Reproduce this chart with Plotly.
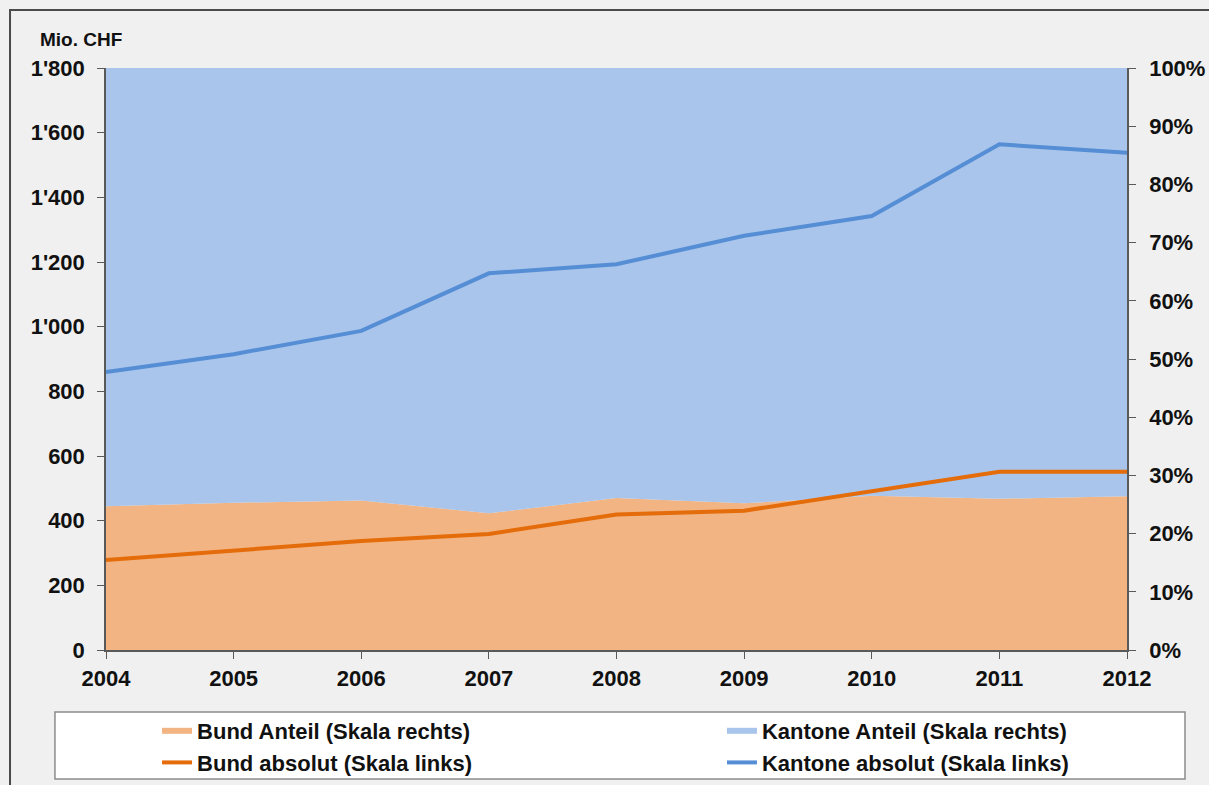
import plotly.graph_objects as go

# Years on the x axis
years = [2004, 2005, 2006, 2007, 2008, 2009, 2010, 2011, 2012]

# Shares in percent (right-hand scale)
bund_anteil = [24.7, 25.3, 25.7, 23.5, 26.1, 25.2, 26.5, 26.0, 26.4]
kantone_anteil = [75.3, 74.7, 74.3, 76.5, 73.9, 74.8, 73.5, 74.0, 73.6]

# Absolute amounts in Mio. CHF (left-hand scale)
bund_absolut = [278, 309, 337, 359, 419, 431, 490, 551, 551]
kantone_absolut = [860, 915, 987, 1165, 1193, 1281, 1342, 1564, 1538]

# Axis tick labels
chf_ticks = [0, 200, 400, 600, 800, 1000, 1200, 1400, 1600, 1800]
chf_labels = ["0", "200", "400", "600", "800", "1'000", "1'200", "1'400", "1'600", "1'800"]
pct_ticks = [0, 10, 20, 30, 40, 50, 60, 70, 80, 90, 100]
pct_labels = [f"{v}%" for v in pct_ticks]

ORANGE_FILL = "#F2B482"
BLUE_FILL = "#A9C5EB"
ORANGE_LINE = "#E46C0A"
BLUE_LINE = "#558ED5"
AXIS = "#595959"
FONT = "Liberation Sans"

fig = go.Figure()

# Stacked shares (right scale) – Bund entries go to the first legend column,
# Kantone entries to the second.
fig.add_trace(go.Scatter(
    x=years, y=bund_anteil, name="Bund Anteil (Skala rechts)",
    stackgroup="anteil", mode="none", fillcolor=ORANGE_FILL,
    yaxis="y", hoverinfo="skip", legend="legend",
))
fig.add_trace(go.Scatter(
    x=years, y=kantone_anteil, name="Kantone Anteil (Skala rechts)",
    stackgroup="anteil", mode="none", fillcolor=BLUE_FILL,
    yaxis="y", hoverinfo="skip", legend="legend2",
))
# Absolute amounts (left scale)
fig.add_trace(go.Scatter(
    x=years, y=bund_absolut, name="Bund absolut (Skala links)",
    mode="lines", line=dict(color=ORANGE_LINE, width=4),
    yaxis="y2", legend="legend",
))
fig.add_trace(go.Scatter(
    x=years, y=kantone_absolut, name="Kantone absolut (Skala links)",
    mode="lines", line=dict(color=BLUE_LINE, width=4),
    yaxis="y2", legend="legend2",
))

tick_font = dict(family=FONT, size=22, color="#111111", weight="bold")
legend_font = dict(family=FONT, size=22, color="#111111", weight="bold")

legend_common = dict(
    orientation="v", xanchor="left", y=-0.1031, yanchor="top",
    bgcolor="rgba(0,0,0,0)", borderwidth=0, traceorder="normal",
    font=legend_font, itemclick=False, itemdoubleclick=False,
)

fig.update_layout(
    width=1209, height=785,
    paper_bgcolor="#F0F0F0", plot_bgcolor="#F0F0F0",
    margin=dict(l=106, r=82, t=68, b=135, autoexpand=False),
    showlegend=True,
    font=dict(family=FONT, color="#111111"),
    xaxis=dict(
        range=[2004, 2012], tickvals=years, ticktext=[str(y) for y in years],
        showgrid=False, zeroline=False, showline=True, linecolor=AXIS, linewidth=1.5,
        ticks="outside", ticklen=7, tickcolor=AXIS, tickfont=tick_font,
        ticklabelstandoff=1,
    ),
    yaxis=dict(
        side="right", range=[0, 100], tickvals=pct_ticks, ticktext=pct_labels,
        showgrid=False, zeroline=False, showline=True, linecolor=AXIS, linewidth=1.5,
        ticks="outside", ticklen=7, tickcolor=AXIS, tickfont=tick_font,
        ticklabelstandoff=9,
    ),
    yaxis2=dict(
        overlaying="y", side="left", range=[0, 1800], tickvals=chf_ticks, ticktext=chf_labels,
        showgrid=False, zeroline=False, showline=True, linecolor=AXIS, linewidth=1.5,
        ticks="outside", ticklen=7, tickcolor=AXIS, tickfont=tick_font,
        ticklabelstandoff=8,
    ),
    legend=dict(x=0.05, **legend_common),
    legend2=dict(x=0.6033, **legend_common),
    shapes=[
        # legend box
        dict(type="rect", xref="paper", yref="paper",
             x0=-0.05, x1=1.0568, y0=-0.1065, y1=-0.2216,
             fillcolor="white", line=dict(color="#8C8C8C", width=1.5), layer="below"),
        # outer chart frame
        dict(type="rect", xref="paper", yref="paper",
             x0=-0.094, x1=1.3, y0=1.0997, y1=-0.4,
             fillcolor="rgba(0,0,0,0)", line=dict(color="#4A4A4A", width=2)),
    ],
    annotations=[
        dict(text="Mio. CHF", xref="paper", yref="paper",
             x=-0.067, y=1.027, xanchor="left", yanchor="bottom", showarrow=False,
             font=dict(family=FONT, size=19, color="#111111", weight="bold")),
    ],
)

fig.write_html("out.html")
